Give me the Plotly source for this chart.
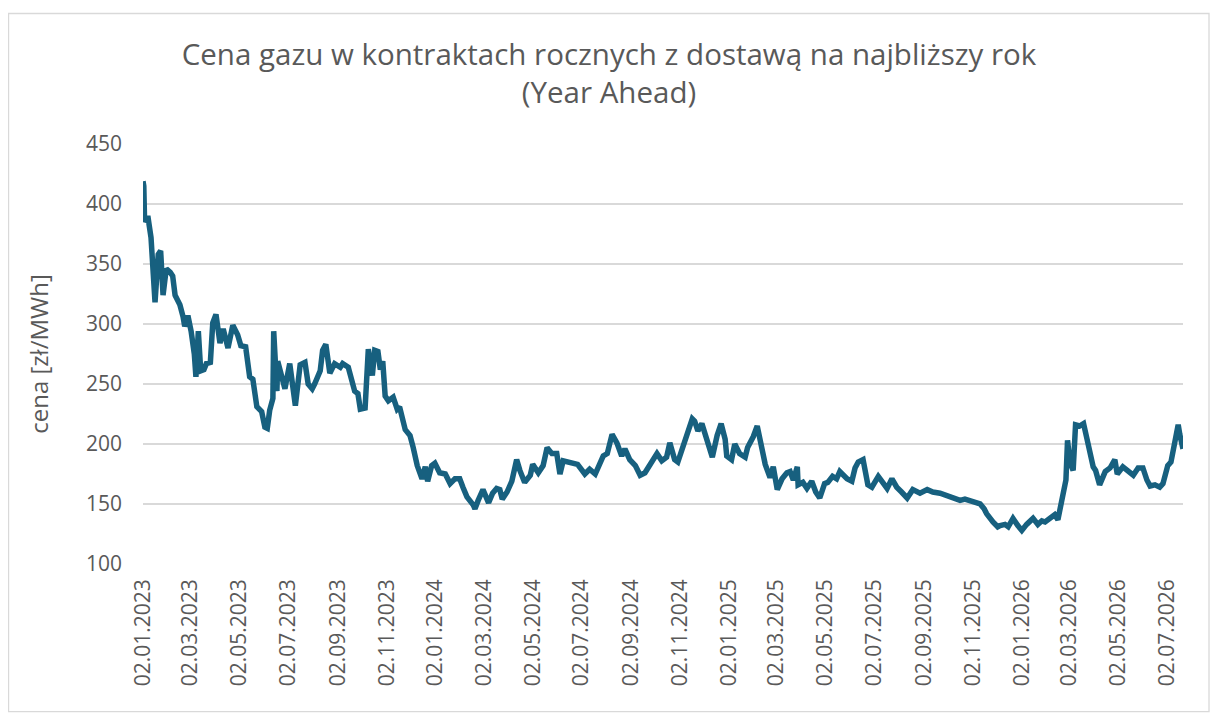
import plotly.graph_objects as go

# Year Ahead gas contract price
dates = [
    "2023-01-02", "2023-01-03", "2023-01-04", "2023-01-08", "2023-01-12", "2023-01-17",
    "2023-01-21", "2023-01-24", "2023-01-27", "2023-01-31", "2023-02-05", "2023-02-08",
    "2023-02-11", "2023-02-17", "2023-02-21", "2023-02-23", "2023-02-27", "2023-03-03",
    "2023-03-07", "2023-03-09", "2023-03-12", "2023-03-15", "2023-03-19", "2023-03-22",
    "2023-03-27", "2023-03-30", "2023-04-03", "2023-04-08", "2023-04-12", "2023-04-18",
    "2023-04-24", "2023-04-30", "2023-05-04", "2023-05-10", "2023-05-15", "2023-05-19",
    "2023-05-24", "2023-05-30", "2023-06-03", "2023-06-06", "2023-06-09", "2023-06-13",
    "2023-06-14", "2023-06-18", "2023-06-19", "2023-06-24", "2023-06-28", "2023-07-04",
    "2023-07-07", "2023-07-11", "2023-07-17", "2023-07-23", "2023-07-27", "2023-08-01",
    "2023-08-04", "2023-08-11", "2023-08-14", "2023-08-18", "2023-08-23", "2023-08-29",
    "2023-09-05", "2023-09-08", "2023-09-15", "2023-09-20", "2023-09-23", "2023-09-27",
    "2023-09-30", "2023-10-06", "2023-10-10", "2023-10-15", "2023-10-18", "2023-10-22",
    "2023-10-25", "2023-10-28", "2023-10-31", "2023-11-04", "2023-11-10", "2023-11-15",
    "2023-11-18", "2023-11-25", "2023-12-01", "2023-12-05", "2023-12-10", "2023-12-16",
    "2023-12-20", "2023-12-23", "2023-12-28", "2024-01-01", "2024-01-07", "2024-01-14",
    "2024-01-20", "2024-01-26", "2024-02-01", "2024-02-05", "2024-02-10", "2024-02-18",
    "2024-02-20", "2024-02-24", "2024-03-01", "2024-03-08", "2024-03-13", "2024-03-18",
    "2024-03-22", "2024-03-25", "2024-03-31", "2024-04-06", "2024-04-12", "2024-04-16",
    "2024-04-22", "2024-04-29", "2024-05-02", "2024-05-09", "2024-05-15", "2024-05-20",
    "2024-05-26", "2024-06-01", "2024-06-05", "2024-06-09", "2024-06-15", "2024-06-21",
    "2024-06-27", "2024-07-06", "2024-07-12", "2024-07-19", "2024-07-25", "2024-07-29",
    "2024-08-03", "2024-08-09", "2024-08-15", "2024-08-21", "2024-08-25", "2024-08-31",
    "2024-09-07", "2024-09-13", "2024-09-19", "2024-09-28", "2024-10-04", "2024-10-10",
    "2024-10-16", "2024-10-20", "2024-10-26", "2024-10-30", "2024-11-05", "2024-11-10",
    "2024-11-17", "2024-11-20", "2024-11-24", "2024-11-29", "2024-12-05", "2024-12-12",
    "2024-12-18", "2024-12-23", "2024-12-28", "2024-12-30", "2025-01-05", "2025-01-09",
    "2025-01-15", "2025-01-22", "2025-01-25", "2025-02-01", "2025-02-06", "2025-02-12",
    "2025-02-16", "2025-02-22", "2025-02-26", "2025-03-03", "2025-03-09", "2025-03-15",
    "2025-03-19", "2025-03-23", "2025-03-28", "2025-03-29", "2025-04-04", "2025-04-09",
    "2025-04-15", "2025-04-20", "2025-04-25", "2025-05-01", "2025-05-05", "2025-05-11",
    "2025-05-16", "2025-05-20", "2025-05-29", "2025-06-04", "2025-06-08", "2025-06-12",
    "2025-06-18", "2025-06-24", "2025-06-29", "2025-07-07", "2025-07-12", "2025-07-18",
    "2025-07-24", "2025-07-30", "2025-08-05", "2025-08-12", "2025-08-19", "2025-08-28",
    "2025-09-06", "2025-09-13", "2025-09-22", "2025-10-01", "2025-10-08", "2025-10-17",
    "2025-10-23", "2025-10-29", "2025-11-05", "2025-11-11", "2025-11-16", "2025-11-19",
    "2025-11-27", "2025-12-03", "2025-12-06", "2025-12-12", "2025-12-16", "2025-12-22",
    "2025-12-28", "2026-01-02", "2026-01-08", "2026-01-16", "2026-01-22", "2026-01-27",
    "2026-01-31", "2026-02-06", "2026-02-12", "2026-02-16", "2026-02-20", "2026-02-22",
    "2026-02-26", "2026-02-28", "2026-03-03", "2026-03-07", "2026-03-10", "2026-03-15",
    "2026-03-20", "2026-03-24", "2026-03-28", "2026-04-01", "2026-04-04", "2026-04-09",
    "2026-04-16", "2026-04-22", "2026-04-28", "2026-05-01", "2026-05-08", "2026-05-14",
    "2026-05-21", "2026-05-27", "2026-06-02", "2026-06-07", "2026-06-11", "2026-06-17",
    "2026-06-23", "2026-06-27", "2026-07-03", "2026-07-07", "2026-07-12", "2026-07-16",
    "2026-07-18", "2026-07-22",
]

prices = [
    419, 415, 385, 390, 372, 318,
    358, 361, 324, 346, 343, 340,
    324, 316, 306, 298, 307, 294,
    275, 256, 294, 261, 262, 267,
    268, 301, 308, 284, 296, 280,
    299, 291, 282, 281, 256, 254,
    231, 227, 214, 213, 228, 238,
    294, 244, 269, 256, 246, 267,
    251, 232, 266, 268, 250, 246,
    250, 261, 278, 283, 259, 267,
    264, 267, 264, 251, 244, 242,
    229, 230, 279, 257, 278, 277,
    262, 269, 240, 236, 239, 229,
    231, 212, 207, 197, 182, 171,
    181, 169, 182, 184, 176, 175,
    167, 171, 171, 164, 156, 149,
    146, 153, 162, 151, 159, 163,
    162, 154, 160, 169, 187, 178,
    168, 174, 183, 176, 182, 197,
    192, 192, 175, 186, 185, 185,
    183, 175, 179, 175, 185, 190,
    192, 208, 201, 190, 196, 187,
    182, 174, 176, 186, 192, 186,
    189, 201, 187, 185, 197, 207,
    221, 219, 211, 217, 204, 189,
    207, 217, 204, 190, 187, 200,
    192, 189, 197, 206, 215, 194,
    183, 172, 181, 162, 171, 176,
    177, 170, 181, 166, 168, 163,
    169, 160, 155, 167, 168, 173,
    171, 177, 171, 169, 180, 185,
    187, 166, 164, 173, 169, 163,
    171, 164, 160, 155, 162, 159,
    162, 160, 159, 157, 155, 153,
    154, 153, 151, 150, 146, 142,
    135, 131, 132, 133, 131, 138,
    132, 128, 133, 138, 133, 136,
    135, 138, 141, 137, 150, 162,
    170, 203, 185, 178, 216, 215,
    217, 205, 192, 181, 178, 166,
    177, 180, 187, 175, 181, 178,
    174, 180, 180, 170, 165, 166,
    164, 167, 182, 185, 200, 216,
    208, 196,
]

title_text = "Cena gazu w kontraktach rocznych z dostawą na najbliższy rok<br>(Year Ahead)"
y_title = "cena [zł/MWh]"

grey_text = "#595959"
grid_grey = "#d9d9d9"
font_family = "Open Sans, Liberation Sans, Arial, sans-serif"

fig = go.Figure()

fig.add_trace(go.Scatter(
    x=dates,
    y=prices,
    mode="lines",
    line=dict(color="#17607f", width=5.5),
    showlegend=False,
))

# page body has an 8px margin, so the figure is a bit smaller than the window
fig.update_layout(
    width=1202,
    height=708,
    paper_bgcolor="white",
    plot_bgcolor="white",
    margin=dict(l=135, r=27, t=136, b=152),
    font=dict(family=font_family, color=grey_text, size=21),
    title=dict(
        text=title_text,
        x=0.5,
        xanchor="center",
        y=0.92,
        yanchor="top",
        yref="container",
        font=dict(size=29.5, color=grey_text, family=font_family),
    ),
    # light outer frame like the Excel chart area
    shapes=[dict(
        type="rect", xref="paper", yref="paper",
        x0=-0.1293, x1=1.025, y0=-0.3517, y1=1.3107,
        line=dict(color=grid_grey, width=1.3),
        fillcolor="rgba(0,0,0,0)",
        layer="below",
    )],
)

fig.update_xaxes(
    type="date",
    range=[dates[0], dates[-1]],
    tick0="2023-01-02",
    dtick="M2",
    tickformat="%d.%m.%Y",
    tickangle=-90,
    showgrid=False,
    zeroline=False,
    showline=False,
    ticks="",
    ticklabelstandoff=10,
    tickfont=dict(size=21, color=grey_text),
)

fig.update_yaxes(
    range=[100, 450],
    dtick=50,
    showgrid=True,
    gridcolor=grid_grey,
    gridwidth=1.5,
    zeroline=False,
    showline=False,
    ticks="",
    ticklabelstandoff=20,
    tickfont=dict(size=21, color=grey_text),
    title=dict(text=y_title, standoff=30, font=dict(size=24, color=grey_text)),
)

fig.write_html("out.html")
